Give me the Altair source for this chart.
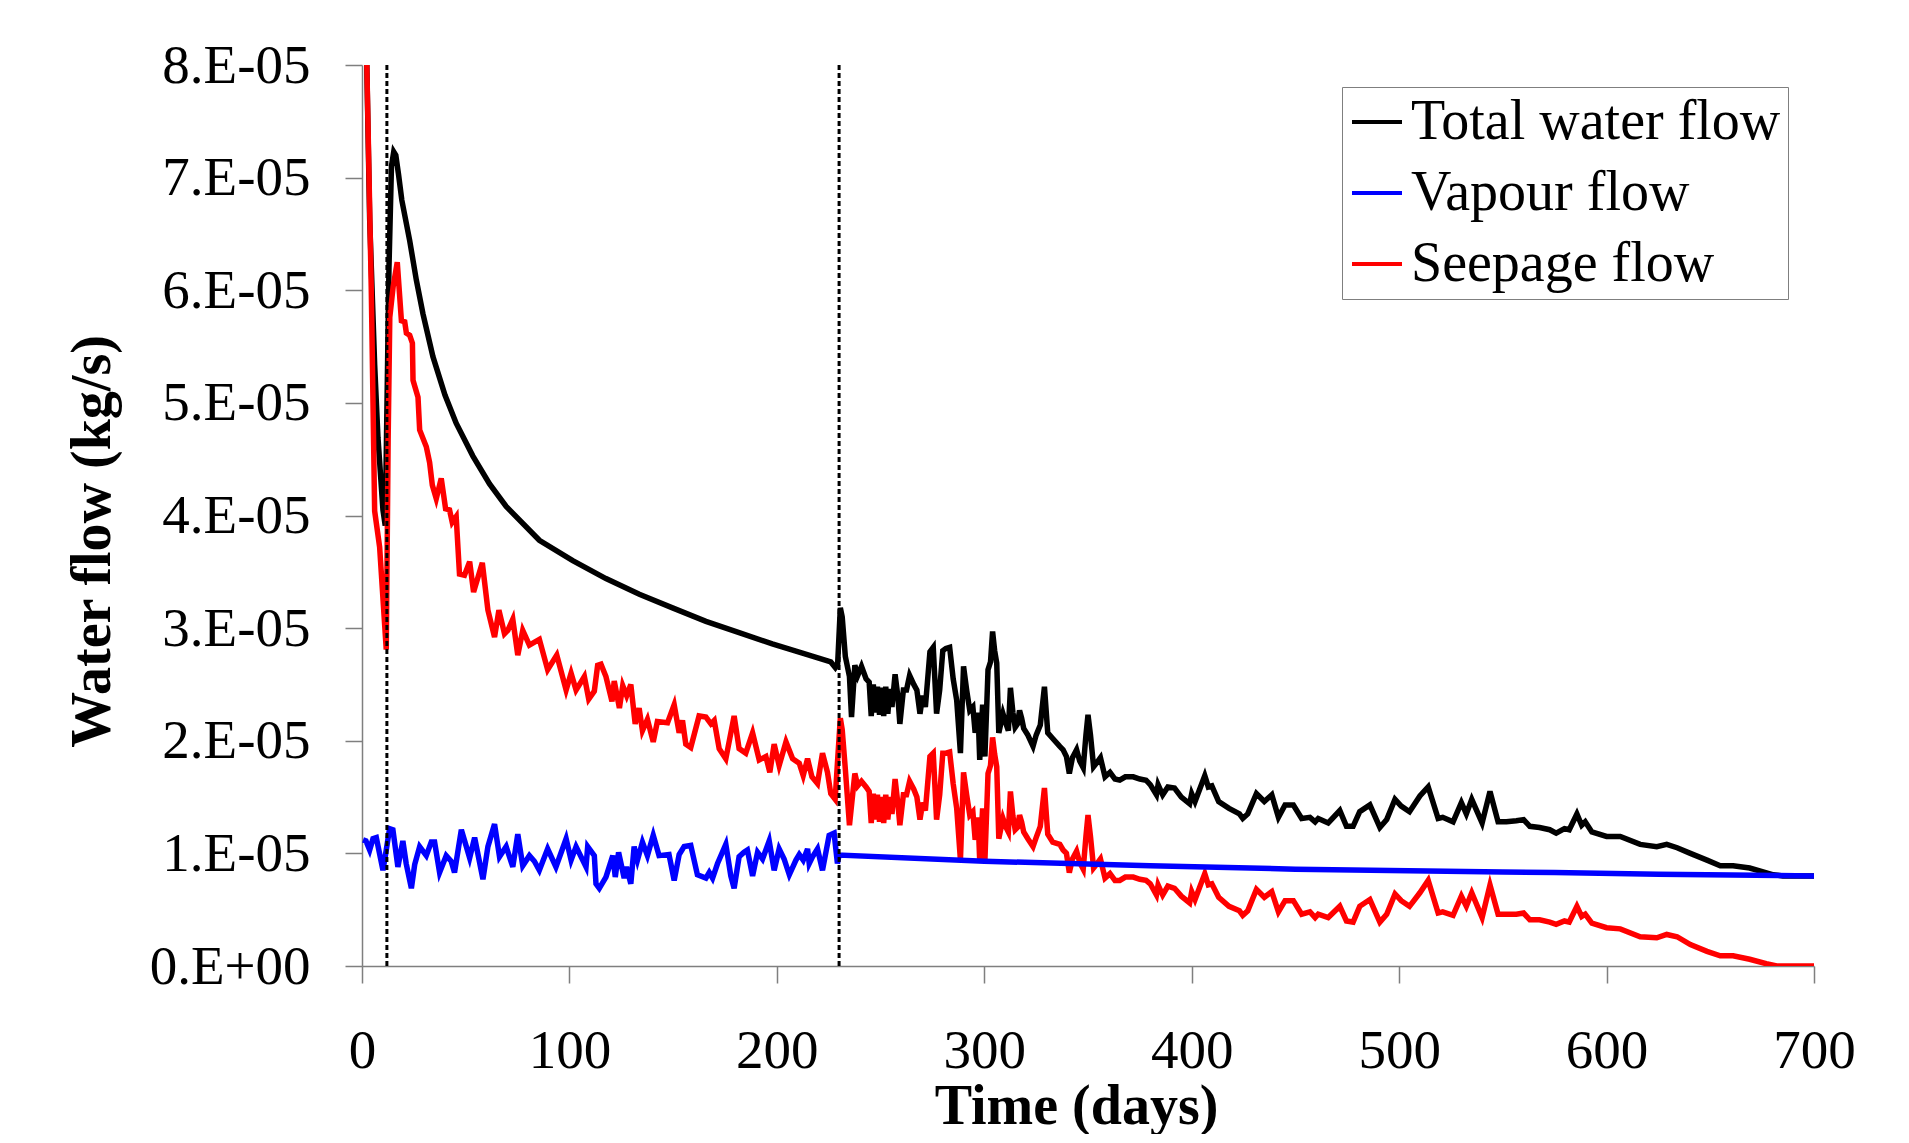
import altair as alt
import pandas as pd

# values in units of 1E-05 kg/s
total_days = [0.5, 2.0, 3.7, 6.1, 7.7, 10.1, 11.2, 11.8, 13.0, 14.2, 15.3, 16.3, 17.6, 19.2, 23, 26.2, 29.4, 34.2, 40, 45.4,
              53.4, 61.5, 69.5, 85.5, 101.6, 117.6, 133.7, 149.7, 165.8, 181.8, 197.8, 213.9, 226, 228.2, 229.3, 230.6,
              231.5, 233, 235, 236, 237.6, 239, 240.8, 243, 244.5, 245.5, 246.5, 247.5, 248.5, 249.5, 250.5, 251.5,
              252.5, 253.5, 254.5, 255.5, 257, 258.3, 259.3, 261, 262.5, 264, 266, 267.5, 269, 270.3, 271.6, 273.8,
              275.4, 277, 278.5, 280, 281.5, 283.3, 285, 286.7, 288.5, 290, 291.5, 293, 294.5, 295.6, 297, 297.8,
              299.2, 300.3, 301.8, 303, 304, 305, 306, 307, 309, 310.5, 311.6, 312.6, 313.8, 314.9, 316, 317, 318,
              319, 321, 323.5, 325, 327, 329, 330.6, 333, 336.4, 338, 339.6, 341, 342.5, 344.5, 346, 347.7, 349, 350,
              351.2, 352.7, 354, 356, 358.2, 360.6, 363, 365.3, 368, 371.8, 375, 378, 380, 383, 383.8, 386, 388.5,
              391.7, 395, 399, 400, 401.6, 406.3, 408, 409.7, 413, 418, 423, 424.6, 427, 431.2, 435, 438.6, 441.8,
              445, 449, 453, 457, 459.5, 461, 465.8, 471.4, 474.6, 477.8, 481, 485.9, 490.7, 494, 498, 501, 505, 510,
              514, 518.8, 521, 526, 530, 532.4, 535, 540, 543.8, 547.7, 551.7, 556.5, 560, 563, 567.7, 572.6, 575.7,
              579.7, 582, 585.7, 588, 589.7, 592.9, 600, 606.6, 616.2, 624.2, 629, 634, 640.4, 648.4, 654.8, 661,
              669, 680.4, 685, 700]
total_vals = [10.5, 8.3, 6.63, 5.34, 4.69, 4.05, 3.91, 4.67, 6.2, 7.1, 7.23, 7.2, 7.03, 6.80, 6.44, 6.09, 5.79, 5.41, 5.07, 4.82,
              4.53, 4.28, 4.08, 3.78, 3.60, 3.44, 3.30, 3.18, 3.06, 2.96, 2.86, 2.77, 2.70, 2.65, 2.68, 3.18,
              3.10, 2.75, 2.57, 2.21, 2.67, 2.58, 2.66, 2.55, 2.52, 2.22, 2.50, 2.25, 2.48, 2.23, 2.47, 2.22,
              2.48, 2.24, 2.46, 2.30, 2.59, 2.40, 2.15, 2.45, 2.45, 2.58, 2.50, 2.45, 2.24, 2.40, 2.30, 2.79,
              2.83, 2.24, 2.45, 2.80, 2.82, 2.83, 2.55, 2.36, 1.89, 2.66, 2.45, 2.27, 2.30, 2.07, 2.25, 1.83,
              2.32, 1.86, 2.63, 2.70, 2.97, 2.80, 2.69, 2.07, 2.24, 2.15, 2.09, 2.47, 2.25, 2.12, 2.15, 2.27, 2.20,
              2.11, 2.05, 1.95, 2.05, 2.14, 2.48, 2.07, 2.02, 1.95, 1.92, 1.86, 1.71, 1.85, 1.92, 1.82, 1.76, 2.05, 2.23,
              2.05, 1.77, 1.80, 1.85, 1.68, 1.72, 1.66, 1.65, 1.68, 1.68, 1.66, 1.65, 1.61, 1.52, 1.61, 1.52, 1.59,
              1.58, 1.50, 1.44, 1.53, 1.46, 1.69, 1.59, 1.60, 1.46, 1.40, 1.35, 1.31, 1.35, 1.53, 1.46, 1.52, 1.32,
              1.43, 1.43, 1.31, 1.32, 1.28, 1.31, 1.27, 1.38, 1.24, 1.24, 1.37, 1.43, 1.23, 1.30, 1.48, 1.42, 1.37, 1.51,
              1.59, 1.31, 1.32, 1.28, 1.45, 1.35, 1.48, 1.27, 1.55, 1.28, 1.28, 1.29, 1.30, 1.24, 1.23, 1.21, 1.18,
              1.22, 1.21, 1.35, 1.25, 1.28, 1.19, 1.15, 1.15, 1.08, 1.06, 1.08, 1.05, 1.00, 0.94, 0.89, 0.89,
              0.87, 0.81, 0.80, 0.80]

vapour_days = [0.5, 1.9, 3.7, 5.3, 6.9, 10.1, 11.7, 13.3, 14.9, 17.3, 19.7, 21.3, 23.8, 25.4, 27.8, 31, 33.4, 35, 37.4,
               40.6, 43, 44.6, 47.9, 51.9, 54.3, 58.3, 60.7, 63.9, 66.3, 69.5, 72.7, 75.1, 77.5, 80.7, 83.1, 85.5,
               89.5, 93.5, 98.4, 100.8, 103.2, 108, 108.8, 112, 112.8, 114.4, 117.6, 120.9, 122.1, 123.7, 126.4,
               127.5, 129.6, 131.2, 132.8, 135.2, 137.6, 140.4, 143.2, 148, 150.5, 152.9, 155.3, 158.5, 161.7,
               165.8, 167.4, 169, 171.4, 175.4, 177.8, 179.4, 181.8, 184.2, 185.8, 188.3, 190.7, 193.1, 196.3,
               198.7, 201.1, 203.5, 206, 209.2, 210.8, 212.7, 214.8, 215.6, 217.2, 219.6, 222, 225.2, 227.6, 229.2,
               230, 300, 380, 450, 550, 575, 625, 700]
vapour_vals = [1.12, 1.11, 1.03, 1.13, 1.14, 0.85, 1.03, 1.22, 1.21, 0.88, 1.11, 0.91, 0.69, 0.90, 1.06, 0.98, 1.10, 1.10, 0.83,
               0.98, 0.93, 0.83, 1.21, 0.96, 1.14, 0.77, 1.06, 1.26, 0.97, 1.06, 0.88, 1.17, 0.89, 0.98, 0.93, 0.85,
               1.04, 0.88, 1.13, 0.94, 1.06, 0.88, 1.06, 0.98, 0.73, 0.69, 0.79, 0.98, 0.79, 1.01, 0.78,
               0.88, 0.73, 1.06, 0.94, 1.10, 0.98, 1.16, 0.98, 0.99, 0.76, 0.99, 1.06, 1.07, 0.81,
               0.78, 0.83, 0.78, 0.91, 1.08, 0.80, 0.69, 0.97, 1.01, 1.03, 0.80, 1.01, 0.95, 1.11,
               0.85, 1.04, 0.95, 0.81, 0.94, 0.99, 0.94, 1.04, 0.91, 0.97, 1.04, 0.85, 1.16, 1.18, 0.91,
               0.985, 0.93, 0.89, 0.86, 0.835, 0.83, 0.815, 0.80]

seepage_days = [0.5, 2.0, 4.5, 6.1, 8.5, 11.7, 12.6, 13.4, 15, 17, 19, 20.6, 21.4, 23, 24.3, 24.6, 27, 27.8, 31, 32.6, 33.9,
                35.8, 38.2, 40.3, 42.2, 43.5, 45.4, 47, 49.4, 51.9, 53.8, 58, 60.7, 63.9, 66, 68.7, 70.3, 72.7, 75.1,
                77.5, 80.7, 85.5, 89.5, 93.9, 98.4, 100.8, 103.2, 107.2, 109.3, 112, 113.6, 115.2, 117.6, 120.5,
                121.6, 124.1, 125.7, 127.6, 129.6, 131.7, 133.6, 135.2, 137.6, 140.4, 142.4, 147.3, 150.5, 152.9,
                154.5, 156.1, 158.5, 162.5, 165.8, 168.2, 169.8, 172.2, 175.4, 179.4, 181.8, 185, 188.3, 191.5,
                194.7, 196.6, 198.7, 201.1, 204.4, 207.6, 210.8, 212.7, 214.8, 216.9, 219.6, 222, 224.4, 226, 228.1,
                229.2, 230.6, 231.5, 233, 235, 237.6, 239, 240.8, 243, 244.5, 245.5, 246.5, 247.5, 248.5, 249.5,
                250.5, 251.5, 252.5, 253.5, 254.5, 255.5, 257, 258.3, 259.3, 261, 262.5, 264, 266, 267.5, 269, 270.3,
                271.6, 273.8, 275.4, 277, 278.5, 280, 281.5, 283.3, 285, 286.7, 288.5, 290, 291.5, 293, 294.5, 295.6,
                297, 297.8, 299.2, 300.3, 301.8, 303, 304, 305, 306, 307, 309, 310.5, 311.6, 312.6, 313.8, 314.9, 316,
                317, 318, 319, 321, 323.5, 325, 327, 329, 330.6, 333, 336.4, 338, 339.6, 341, 342.5, 344.5, 346, 347.7,
                349, 350, 351.2, 352.7, 354, 356, 358.2, 360.6, 363, 365.3, 368, 371.8, 375, 378, 380, 383, 383.8, 386,
                388.5, 391.7, 395, 399, 400, 401.6, 406.3, 408, 409.7, 413, 418, 423, 424.6, 427, 431.2, 435, 438.6,
                441.8, 445, 449, 453, 457, 459.5, 461, 465.8, 471.4, 474.6, 477.8, 481, 485.9, 490.7, 494, 498, 501,
                505, 510, 514, 518.8, 521, 526, 530, 532.4, 535, 540, 543.8, 547.7, 551.7, 556.5, 560, 563, 567.7,
                572.6, 575.7, 579.7, 582, 585.7, 588, 589.7, 592.9, 600, 606.6, 616.2, 624.2, 629, 634, 640.4, 648.4,
                654.8, 661, 669, 677, 682, 700]
seepage_vals = [10.5, 8.3, 5.98, 4.04, 3.72, 2.81, 4.67, 5.76, 6.03, 6.25, 5.73, 5.72, 5.62, 5.60, 5.53, 5.2, 5.05, 4.76, 4.61, 4.47, 4.27,
                4.15, 4.33, 4.06, 4.05, 3.94, 3.99, 3.48, 3.47, 3.59, 3.32, 3.58, 3.16, 2.92, 3.16, 2.95, 2.98, 3.08, 2.76,
                2.98, 2.85, 2.90, 2.63, 2.76, 2.45, 2.60, 2.45, 2.57, 2.37, 2.44, 2.67, 2.68, 2.57, 2.35,
                2.53, 2.29, 2.49, 2.40, 2.50, 2.15, 2.29, 2.09, 2.19, 1.99, 2.17, 2.16, 2.32, 2.07,
                2.18, 1.97, 1.94, 2.22, 2.21, 2.15, 2.18, 1.93, 1.84, 2.22, 1.93, 1.89, 2.07, 1.83,
                1.86, 1.72, 1.97, 1.78, 1.99, 1.84, 1.80, 1.69, 1.84, 1.68, 1.62, 1.89, 1.72, 1.53, 1.48,
                1.80, 2.20, 2.10, 1.75, 1.25, 1.71, 1.60, 1.64, 1.59, 1.55, 1.27, 1.53, 1.30, 1.52, 1.28,
                1.50, 1.27, 1.52, 1.30, 1.50, 1.35, 1.66, 1.45, 1.25, 1.52, 1.52, 1.64, 1.57, 1.50, 1.30, 1.45,
                1.38, 1.86, 1.89, 1.30, 1.52, 1.89, 1.89, 1.90, 1.62, 1.40, 0.94, 1.72, 1.52, 1.34, 1.37, 1.12,
                1.32, 0.93, 1.40, 0.94, 1.71, 1.78, 2.03, 1.88, 1.77, 1.13, 1.31, 1.23, 1.19, 1.55, 1.33, 1.21, 1.23,
                1.34, 1.28, 1.19, 1.13, 1.06, 1.14, 1.24, 1.58, 1.17, 1.10, 1.08, 1.03, 1.00, 0.83, 0.95, 1.02, 0.92, 0.86,
                1.15, 1.34, 1.15, 0.87, 0.90, 0.95, 0.78, 0.82, 0.76, 0.76, 0.79, 0.79, 0.77, 0.76, 0.73, 0.63, 0.72, 0.63,
                0.71, 0.69, 0.62, 0.56, 0.66, 0.59, 0.82, 0.72, 0.73, 0.61, 0.53, 0.49, 0.45, 0.49, 0.68, 0.61, 0.66,
                0.48, 0.58, 0.58, 0.46, 0.48, 0.43, 0.46, 0.43, 0.53, 0.40, 0.39, 0.53, 0.59, 0.39, 0.46, 0.64, 0.58,
                0.53, 0.65, 0.76, 0.47, 0.48, 0.45, 0.62, 0.53, 0.65, 0.43, 0.72, 0.46, 0.46, 0.46, 0.47, 0.41, 0.41,
                0.39, 0.37, 0.40, 0.39, 0.53, 0.44, 0.46, 0.38, 0.34, 0.33, 0.26, 0.25, 0.28, 0.26, 0.19, 0.13,
                0.09, 0.09, 0.06, 0.02, 0.0, 0.0]

series_names = ["Total water flow", "Vapour flow", "Seepage flow"]
series_colors = ["#000000", "#0000ff", "#ff0000"]
phase_days = [12, 230]
y_ticks = [0, 1, 2, 3, 4, 5, 6, 7, 8]
x_ticks = [0, 100, 200, 300, 400, 500, 600, 700]

rows = []
for name, days, vals in [(series_names[0], total_days, total_vals),
                         (series_names[2], seepage_days, seepage_vals),
                         (series_names[1], vapour_days, vapour_vals)]:
    for i, (d, v) in enumerate(zip(days, vals)):
        rows.append({"series": name, "day": d, "flow": v * 1e-5, "i": i})
df = pd.DataFrame(rows)
rules_df = pd.DataFrame({"day": phase_days})

FONT = "Liberation Serif"

lines = alt.Chart(df).mark_line(strokeWidth=5.5, clip=True).encode(
    x=alt.X("day:Q",
            scale=alt.Scale(domain=[0, 700], nice=False),
            axis=alt.Axis(values=x_ticks, title="Time (days)", labelBaseline="alphabetic",
                          labelFlush=False, labelPadding=84, titleX=714, titleY=157,
                          titleBaseline="alphabetic")),
    y=alt.Y("flow:Q",
            scale=alt.Scale(domain=[0, 8e-5], nice=False),
            axis=alt.Axis(values=[t * 1e-5 for t in y_ticks], title="Water flow (kg/s)",
                          labelExpr="datum.value == 0 ? '0.E+00' : format(datum.value * 100000, '.0f') + '.E-05'",
                          labelFlush=False, labelPadding=35, titleAngle=-90, titleX=-253, titleY=476,
                          titleAlign="center", titleBaseline="alphabetic")),
    color=alt.Color("series:N",
                    scale=alt.Scale(domain=series_names, range=series_colors),
                    legend=alt.Legend(title=None, orient="none", legendX=980, legendY=22,
                                      symbolType="stroke", symbolSize=2500, symbolStrokeWidth=4,
                                      labelFont=FONT, labelFontSize=56, labelColor="#000000",
                                      labelLimit=1000, labelOffset=6, rowPadding=15, padding=7,
                                      strokeColor="#7f7f7f", fillColor="#ffffff")),
    order=alt.Order("i:Q"),
    detail="series:N",
)

rules = alt.Chart(rules_df).mark_rule(color="#000000", strokeWidth=3, strokeDash=[5, 3]).encode(
    x="day:Q"
)

chart = alt.layer(lines, rules).properties(
    width=1452, height=901,
    padding={"left": 354, "top": 57, "right": 70, "bottom": 168},
    autosize="none",
).configure_view(stroke=None).configure_axis(
    grid=False,
    domainColor="#7f7f7f", domainWidth=1.5,
    tickColor="#7f7f7f", tickWidth=1.5, tickSize=17,
    labelFont=FONT, labelFontSize=55, labelColor="#000000",
    titleFont=FONT, titleFontSize=56, titleFontWeight="bold", titleColor="#000000",
)

chart.save("out.html", embed_options={"renderer": "svg", "actions": False})
